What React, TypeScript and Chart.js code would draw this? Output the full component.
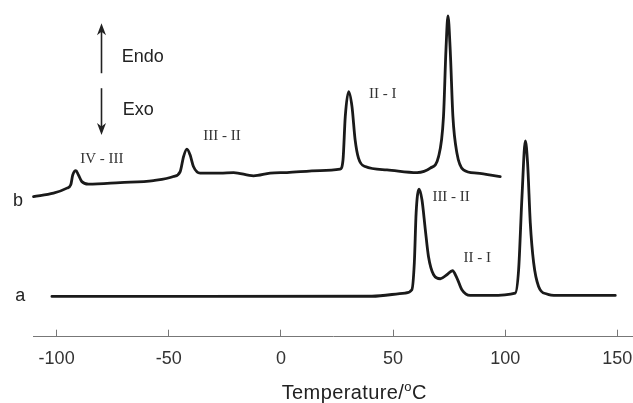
import React, { useEffect, useRef } from "react";
import { Chart, registerables } from "chart.js";

Chart.register(...registerables);

// x axis ticks (temperature, °C)
const X_TICKS = [-100, -50, 0, 50, 100, 150];
const X_TITLE_MAIN = "Temperature/";
const X_TITLE_SUP = "o";
const X_TITLE_UNIT = "C";

// curve b (upper trace): temperature, heat-flow signal (arbitrary units)
const B_TEMPS = [
  -110.3, -101.4, -95.4, -93.7, -92.8, -91.4, -90.3, -88.8, -85.8, -71.7,
  -56.8, -47.9, -44.9, -43.4, -41.9, -40.5, -39.0, -36.0, -27.1, -21.1,
  -12.2, -4.8, 2.7, 17.5, 26.4, 27.7, 28.7, 30.2, 31.7, 33.1,
  34.6, 37.6, 47.3, 60.7, 66.6, 70.3, 72.5, 73.6, 74.5, 75.5,
  76.7, 78.5, 81.4, 87.4, 97.8,
];
const B_VALUES = [
  140.3, 143.7, 148.7, 152, 162, 166.3, 162, 155.3, 152.7, 154.3,
  156.3, 160.3, 165.3, 180.3, 187.7, 182, 170.3, 163.7, 163.7, 164.3,
  161, 163.7, 164.3, 166.3, 167.7, 177, 220.3, 245.3, 230.3, 197,
  178.7, 170.3, 167, 164.3, 168.7, 180.3, 220.3, 287, 321, 287,
  220.3, 183.7, 167, 163.7, 160.3,
];

// curve a (lower trace)
const A_TEMPS = [
  -102.1, -36.0, 40.6, 55.4, 58.4, 59.5, 60.3, 61.6, 62.9, 64.4,
  65.8, 68.1, 71.1, 74.0, 76.5, 78.5, 80.7, 84.4, 93.4, 104.5,
  106.0, 107.5, 109.0, 110.0, 111.2, 112.7, 114.9, 118.6, 123.1, 149.1,
];
const A_VALUES = [
  40.3, 40.3, 40.5, 43.7, 47, 74, 124, 147.7, 137, 107,
  80.3, 62, 58, 62, 66, 58.7, 47, 41.3, 41.3, 43.7,
  67, 140.3, 196, 173.7, 114, 74, 50.3, 42.7, 41.3, 41.3,
];

// transition labels
const PEAK_LABELS = ["IV - III", "III - II", "II - I", "III - II", "II - I"];
const PEAK_LABEL_T = [-79.8, -26.3, 45.4, 75.9, 87.6];
const PEAK_LABEL_V = [177.7, 201, 242.7, 139.3, 78.7];

const CURVE_NAMES = ["b", "a"];

const SANS = '"Liberation Sans", Arial, Helvetica, sans-serif';
const SERIF = '"Liberation Serif", "Times New Roman", serif';

const overlayPlugin = {
  id: "overlay",
  afterDraw(chart: any) {
    const ctx = chart.ctx;
    const xs = chart.scales.x;
    const ys = chart.scales.y;
    const px = (t: number) => xs.getPixelForValue(t);
    const py = (v: number) => ys.getPixelForValue(v);
    ctx.save();

    // transition labels
    ctx.font = `15px ${SERIF}`;
    ctx.fillStyle = "#333";
    ctx.textAlign = "center";
    ctx.textBaseline = "middle";
    PEAK_LABELS.forEach((s, i) => ctx.fillText(s, px(PEAK_LABEL_T[i]), py(PEAK_LABEL_V[i])));

    // curve names
    ctx.font = `18px ${SANS}`;
    ctx.fillStyle = "#222";
    ctx.textAlign = "left";
    ctx.textBaseline = "alphabetic";
    ctx.fillText(CURVE_NAMES[0], px(-119.5), py(131));
    ctx.fillText(CURVE_NAMES[1], px(-118.5), py(35.3));

    // Endo / Exo
    ctx.textBaseline = "middle";
    ctx.fillText("Endo", px(-71.0), py(280.3));
    ctx.fillText("Exo", px(-70.5), py(227));

    // arrows
    const ax = Math.round(px(-80.3)) + 0.5;
    const drawArrow = (fromY: number, tipY: number) => {
      const dir = tipY < fromY ? 1 : -1; // 1 = pointing up
      ctx.strokeStyle = "#222";
      ctx.lineWidth = 1.6;
      ctx.beginPath();
      ctx.moveTo(ax, fromY);
      ctx.lineTo(ax, tipY + dir * 6);
      ctx.stroke();
      ctx.fillStyle = "#222";
      ctx.beginPath();
      ctx.moveTo(ax, tipY);
      ctx.lineTo(ax - 4.5, tipY + dir * 12);
      ctx.lineTo(ax, tipY + dir * 8.5);
      ctx.lineTo(ax + 4.5, tipY + dir * 12);
      ctx.closePath();
      ctx.fill();
    };
    drawArrow(py(263.7), py(313.7));
    drawArrow(py(248.7), py(202));

    // axis title with superscript
    const cx = px(32.7);
    const base = py(-62);
    ctx.fillStyle = "#222";
    ctx.textBaseline = "alphabetic";
    ctx.textAlign = "left";
    (ctx as any).letterSpacing = "0.4px";
    ctx.font = `20px ${SANS}`;
    const w1 = ctx.measureText(X_TITLE_MAIN).width;
    const w3 = ctx.measureText(X_TITLE_UNIT).width;
    ctx.font = `13px ${SANS}`;
    const w2 = ctx.measureText(X_TITLE_SUP).width;
    const x0 = cx - (w1 + w2 + w3) / 2;
    ctx.font = `20px ${SANS}`;
    ctx.fillText(X_TITLE_MAIN, x0, base);
    ctx.font = `13px ${SANS}`;
    ctx.fillText(X_TITLE_SUP, x0 + w1, base - 8);
    ctx.font = `20px ${SANS}`;
    ctx.fillText(X_TITLE_UNIT, x0 + w1 + w2, base);
    ctx.restore();
  },
};

export default function App() {
  const canvasRef = useRef<HTMLCanvasElement | null>(null);

  useEffect(() => {
    document.body.style.margin = "0";
    const canvas = canvasRef.current;
    if (!canvas) return;
    const toPoints = (ts: number[], vs: number[]) => ts.map((t, i) => ({ x: t, y: vs[i] }));
    const lineStyle = {
      borderColor: "#1a1a1a",
      borderWidth: 2.8,
      pointRadius: 0,
      fill: false,
      cubicInterpolationMode: "monotone" as const,
      borderJoinStyle: "round" as const,
      borderCapStyle: "round" as const,
      clip: false as const,
    };
    const chart = new Chart(canvas, {
      type: "line",
      data: {
        datasets: [
          { label: "b", data: toPoints(B_TEMPS, B_VALUES), ...lineStyle },
          { label: "a", data: toPoints(A_TEMPS, A_VALUES), ...lineStyle },
        ],
      },
      options: {
        animation: false,
        responsive: false,
        devicePixelRatio: 1,
        events: [],
        layout: { padding: { left: 33.3, right: 0, top: 0, bottom: 0 } },
        plugins: {
          legend: { display: false },
          tooltip: { enabled: false },
          title: { display: false },
        },
        scales: {
          x: {
            type: "linear",
            position: "bottom",
            min: -110.4,
            max: 157,
            afterBuildTicks: (s: any) => {
              s.ticks = X_TICKS.map((v) => ({ value: v }));
            },
            afterFit: (s: any) => {
              s.height = 66.3;
              s.paddingLeft = 0;
              s.paddingRight = 0;
            },
            grid: {
              display: true,
              drawOnChartArea: false,
              drawTicks: true,
              tickLength: -7,
              color: "#777",
              lineWidth: 1,
            },
            border: { display: true, color: "#777", width: 1 },
            ticks: {
              padding: 0,
              maxRotation: 0,
              autoSkip: false,
              color: "#333",
              font: { family: SANS, size: 18, lineHeight: "59.6px" },
            },
          },
          y: {
            type: "linear",
            display: false,
            min: 0,
            max: 337,
          },
        },
      },
      plugins: [overlayPlugin],
    });
    return () => chart.destroy();
  }, []);

  return (
    <div style={{ position: "absolute", left: 0, top: 0, width: 633, height: 403, background: "#fff" }}>
      <canvas ref={canvasRef} width={633} height={403} style={{ display: "block" }} />
    </div>
  );
}
